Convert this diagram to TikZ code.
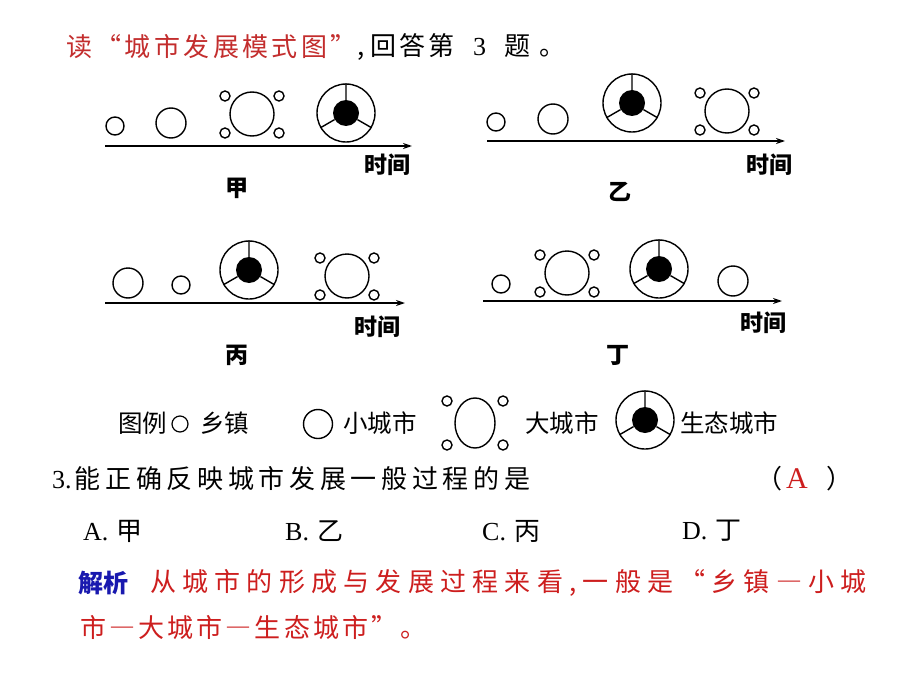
\documentclass[tikz,border=0pt]{standalone}
\usepackage{fontspec}
\setmainfont{Noto Sans CJK SC}
\newfontfamily\latfont{Liberation Serif}
\newfontfamily\spfont[LetterSpace=13]{Noto Sans CJK SC}
\newfontfamily\anfont[LetterSpace=24]{Noto Sans CJK SC}
\newfontfamily\anfontb[LetterSpace=12]{Noto Sans CJK SC}
\newfontfamily\qfont[LetterSpace=18]{Noto Sans CJK SC}
\usetikzlibrary{arrows.meta,shapes.geometric}
\definecolor{tred}{RGB}{195,45,45}
\definecolor{ared}{RGB}{205,30,30}
\definecolor{ablue}{RGB}{25,25,175}
\newcommand\mkbig[2]{%
  \node[bigc] (#1) at (#2) {};
  \node[sat] (#1a) at ([shift={(-27,-18)}]#1) {};
  \node[sat] (#1b) at ([shift={(27,-18)}]#1) {};
  \node[sat] (#1c) at ([shift={(-27,19)}]#1) {};
  \node[sat] (#1d) at ([shift={(27,19)}]#1) {};
}
\newcommand\mkeco[2]{%
  \node[ecoo] (#1) at (#2) {};
  \node[ecoi] (#1i) at (#1) {};
  \draw[ln] (#1i.90) -- (#1.90) (#1i.210) -- (#1.210) (#1i.330) -- (#1.330);
}
\begin{document}
\begin{tikzpicture}[x=1pt,y=-1pt,
  ln/.style={line width=1.4pt},
  town/.style={circle,draw,ln,inner sep=0pt,minimum size=18pt},
  smallc/.style={circle,draw,ln,inner sep=0pt,minimum size=30pt},
  bigc/.style={circle,draw,ln,inner sep=0pt,minimum size=44pt},
  sat/.style={circle,draw,ln,inner sep=0pt,minimum size=10pt},
  ecoo/.style={circle,draw,ln,inner sep=0pt,minimum size=58pt},
  ecoi/.style={circle,fill=black,inner sep=0pt,minimum size=26pt},
  axis/.style={line width=1.5pt,-{Stealth[length=9pt,width=6pt]}},
  lbl/.style={font=\bfseries\fontsize{23}{23}\selectfont,inner sep=0pt},
  leg/.style={font=\fontsize{24.5}{24.5}\selectfont,inner sep=0pt,anchor=west},
  ttl/.style={font=\spfont\fontsize{26}{26}\selectfont,inner sep=0pt,anchor=west},
  ans/.style={font=\anfont\fontsize{26}{26}\selectfont,inner sep=0pt,anchor=west},
  ansb/.style={font=\anfontb\fontsize{26}{26}\selectfont,inner sep=0pt,anchor=west},
  qst/.style={font=\qfont\fontsize{26}{26}\selectfont,inner sep=0pt,anchor=west},
]
\fill[white] (0,0) rectangle (920,690);
\path[use as bounding box] (0,0) rectangle (920,690);

% title
\node[ttl,text=tred] (t1) at (66,47) {读“城市发展模式图”};
\node[ttl] (t2) at (t1.east) {,\hspace{6pt}回答第\hspace{18pt}{\latfont 3}\hspace{18pt}题\hspace{10pt}。};

% panel jia
\coordinate (ja0) at (105,146); \coordinate (ja1) at (412,146);
\draw[axis] (ja0) -- (ja1);
\node[town] (jt) at (115,126) {};
\node[smallc] (js) at (171,123) {};
\mkbig{jb}{252,114}
\mkeco{je}{346,113}
\node[lbl] (jtime) at (387,165) {时间};
\node[lbl] (jname) at (237,188) {甲};

% panel yi
\coordinate (ya0) at (487,141); \coordinate (ya1) at (785,141);
\draw[axis] (ya0) -- (ya1);
\node[town] (yt) at (496,122) {};
\node[smallc] (ys) at (553,119) {};
\mkeco{ye}{632,103}
\mkbig{yb}{727,111}
\node[lbl] (ytime) at (769,165) {时间};
\node[lbl] (yname) at (620,192) {乙};

% panel bing
\coordinate (ba0) at (105,303); \coordinate (ba1) at (405,303);
\draw[axis] (ba0) -- (ba1);
\node[smallc] (bs) at (128,283) {};
\node[town] (bt) at (181,285) {};
\mkeco{be}{249,270}
\mkbig{bb}{347,276}
\node[lbl] (btime) at (377,327) {时间};
\node[lbl] (bname) at (237,355) {丙};

% panel ding
\coordinate (da0) at (483,301); \coordinate (da1) at (782,301);
\draw[axis] (da0) -- (da1);
\node[town] (dt) at (501,284) {};
\mkbig{db}{567,273}
\mkeco{de}{659,269}
\node[smallc] (ds) at (733,281) {};
\node[lbl] (dtime) at (763,323) {时间};
\node[lbl] (dname) at (618,355) {丁};

% legend
\node[leg] (lg0) at (118,423) {图例};
\node[circle,draw,line width=1.2pt,inner sep=0pt,minimum size=16pt] (lgt) at (180,424) {};
\node[leg] (lg1) at (200,423) {乡镇};
\node[circle,draw,ln,inner sep=0pt,minimum size=29pt] (lgs) at (318,424) {};
\node[leg] (lg2) at (343,423) {小城市};
\node[ellipse,draw,ln,inner sep=0pt,minimum width=40pt,minimum height=50pt] (lgb) at (475,423) {};
\node[sat] (lgba) at (447,401) {};
\node[sat] (lgbb) at (503,401) {};
\node[sat] (lgbc) at (447,445) {};
\node[sat] (lgbd) at (503,445) {};
\node[leg] (lg3) at (525,423) {大城市};
\mkeco{lge}{645,420}
\node[leg] (lg4) at (680,423) {生态城市};

% question
\node[qst] (q) at (52,479) {{\latfont 3.}\hspace{3pt}能正确反映城市发展一般过程的是};
\node[qst] (qp1) at (756,479) {（};
\node[font=\latfont\fontsize{30}{30}\selectfont,text=ared,inner sep=0pt] (qa) at (797,479) {A};
\node[qst] (qp2) at (826,479) {）};
\node[qst] (oa) at (83,531) {{\latfont A.}\hspace{8pt}甲};
\node[qst] (ob) at (285,531) {{\latfont B.}\hspace{8pt}乙};
\node[qst] (oc) at (482,531) {{\latfont C.}\hspace{8pt}丙};
\node[qst] (od) at (682,531) {{\latfont D.}\hspace{8pt}丁};

% analysis
\node[leg,font=\bfseries\fontsize{25}{25}\selectfont,text=ablue] (an) at (78,583) {解析};
\node[ans,text=ared] (a1) at (150,583) {从城市的形成与发展过程来看,一般是“乡镇―小城};
\node[ansb,text=ared] (a2) at (80,628) {市―大城市―生态城市”。};
\end{tikzpicture}
\end{document}
